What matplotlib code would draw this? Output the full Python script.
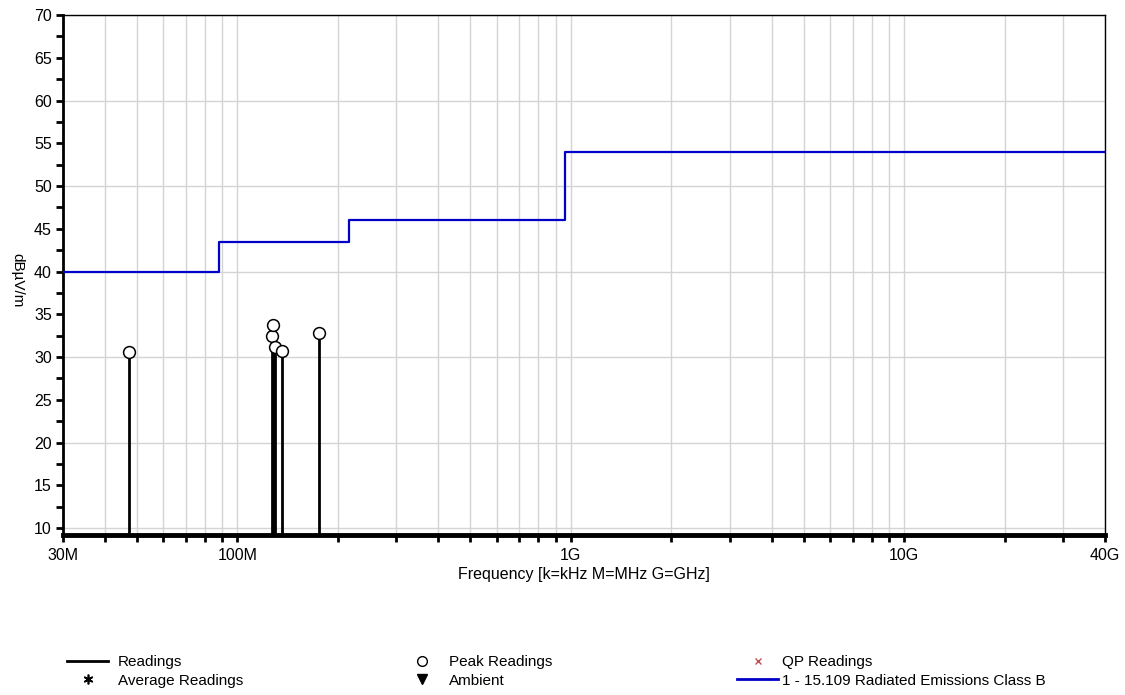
import numpy as np

import matplotlib
matplotlib.use('Agg')

import matplotlib.pyplot as plt

import matplotlib.ticker as mticker

from matplotlib.lines import Line2D



# Datos

limit_freq = [30e6, 88e6, 216e6, 960e6, 40e9]
limit_level = [40, 43.5, 46, 54, 54]

peak_freq = [47.3e6, 126.7e6, 127.9e6, 129.5e6, 135.9e6, 175.7e6]
peak_level = [30.6, 32.4, 33.8, 31.2, 30.7, 32.8]

xtick_vals = [30e6, 100e6, 1e9, 10e9, 40e9]
xtick_labels = ['30M', '100M', '1G', '10G', '40G']

y_bottom = 9.18



if __name__ == "__main__":

    plt.rcParams['font.family'] = ['Liberation Sans', 'DejaVu Sans']
    plt.rcParams['font.size'] = 11

    fig = plt.figure(figsize=(11.25, 6.95), dpi=100)

    ax = fig.add_axes([0.056, 0.2302, 0.9262, 0.7482])



    # Limite y lecturas

    ax.step(limit_freq, limit_level, where='post', color='#0000c8', lw=1.6, zorder=3)

    ax.vlines(peak_freq, y_bottom, peak_level, color='k', lw=2.0, zorder=4)

    ax.plot(peak_freq, peak_level, linestyle='None', marker='o', ms=8.5,
            mfc='white', mec='k', mew=1.1, zorder=5)



    # Ejes

    ax.set_xscale('log')
    ax.set_xlim(30e6, 40e9)
    ax.set_ylim(y_bottom, 70)

    ax.xaxis.set_major_locator(mticker.FixedLocator(xtick_vals))
    ax.xaxis.set_major_formatter(mticker.FixedFormatter(xtick_labels))
    ax.xaxis.set_minor_locator(mticker.LogLocator(base=10, subs=np.arange(2, 10)))
    ax.xaxis.set_minor_formatter(mticker.NullFormatter())

    ax.yaxis.set_major_locator(mticker.MultipleLocator(5))
    ax.yaxis.set_minor_locator(mticker.MultipleLocator(2.5))

    ax.tick_params(which='both', direction='out', length=5, width=2, colors='k')
    ax.tick_params(axis='x', which='major', pad=4, labelsize=11.5)
    ax.tick_params(axis='y', which='major', pad=3, labelsize=11.5)

    ax.grid(True, axis='x', which='both', color='#d4d4d4', lw=1)
    for yy in range(10, 71, 10):
        ax.axhline(yy, color='#d4d4d4', lw=1, zorder=0)
    ax.set_axisbelow(True)

    ax.spines['bottom'].set_linewidth(3.5)
    ax.spines['left'].set_linewidth(2)
    ax.spines['top'].set_linewidth(1)
    ax.spines['right'].set_linewidth(1)

    ax.set_xlabel('Frequency [k=kHz M=MHz G=GHz]', fontsize=11.5, labelpad=3)
    ax.set_ylabel('dB\u00b5V/m', fontsize=11, rotation=270, va='center')
    ax.yaxis.set_label_coords(-0.0435, 0.49)



    # Leyenda

    kw = dict(frameon=False, fontsize=11, borderpad=0, borderaxespad=0,
              labelspacing=0.27, handlelength=2.7, loc='upper left')

    h1 = [Line2D([], [], color='k', lw=2),
          Line2D([], [], ls='None', marker=(6, 2, 0), color='k', ms=7, mew=1.2)]
    leg1 = fig.legend(h1, ['Readings', 'Average Readings'],
                      bbox_to_anchor=(0.0596, 0.057), handletextpad=0.65, **kw)

    h2 = [Line2D([], [], ls='None', marker='o', mfc='white', mec='k', ms=7),
          Line2D([], [], ls='None', marker='v', color='k', ms=7)]
    leg2 = fig.legend(h2, ['Peak Readings', 'Ambient'],
                      bbox_to_anchor=(0.357, 0.057), handletextpad=0.42, **kw)

    h3 = [Line2D([], [], ls='None', marker='x', color='#c05050', ms=5),
          Line2D([], [], color='#0000c8', lw=2)]
    leg3 = fig.legend(h3, ['QP Readings', '1 - 15.109 Radiated Emissions Class B'],
                      bbox_to_anchor=(0.655, 0.057), handletextpad=0.26, **kw)



    # Guardado

    fig.savefig('out.png', dpi=100)
